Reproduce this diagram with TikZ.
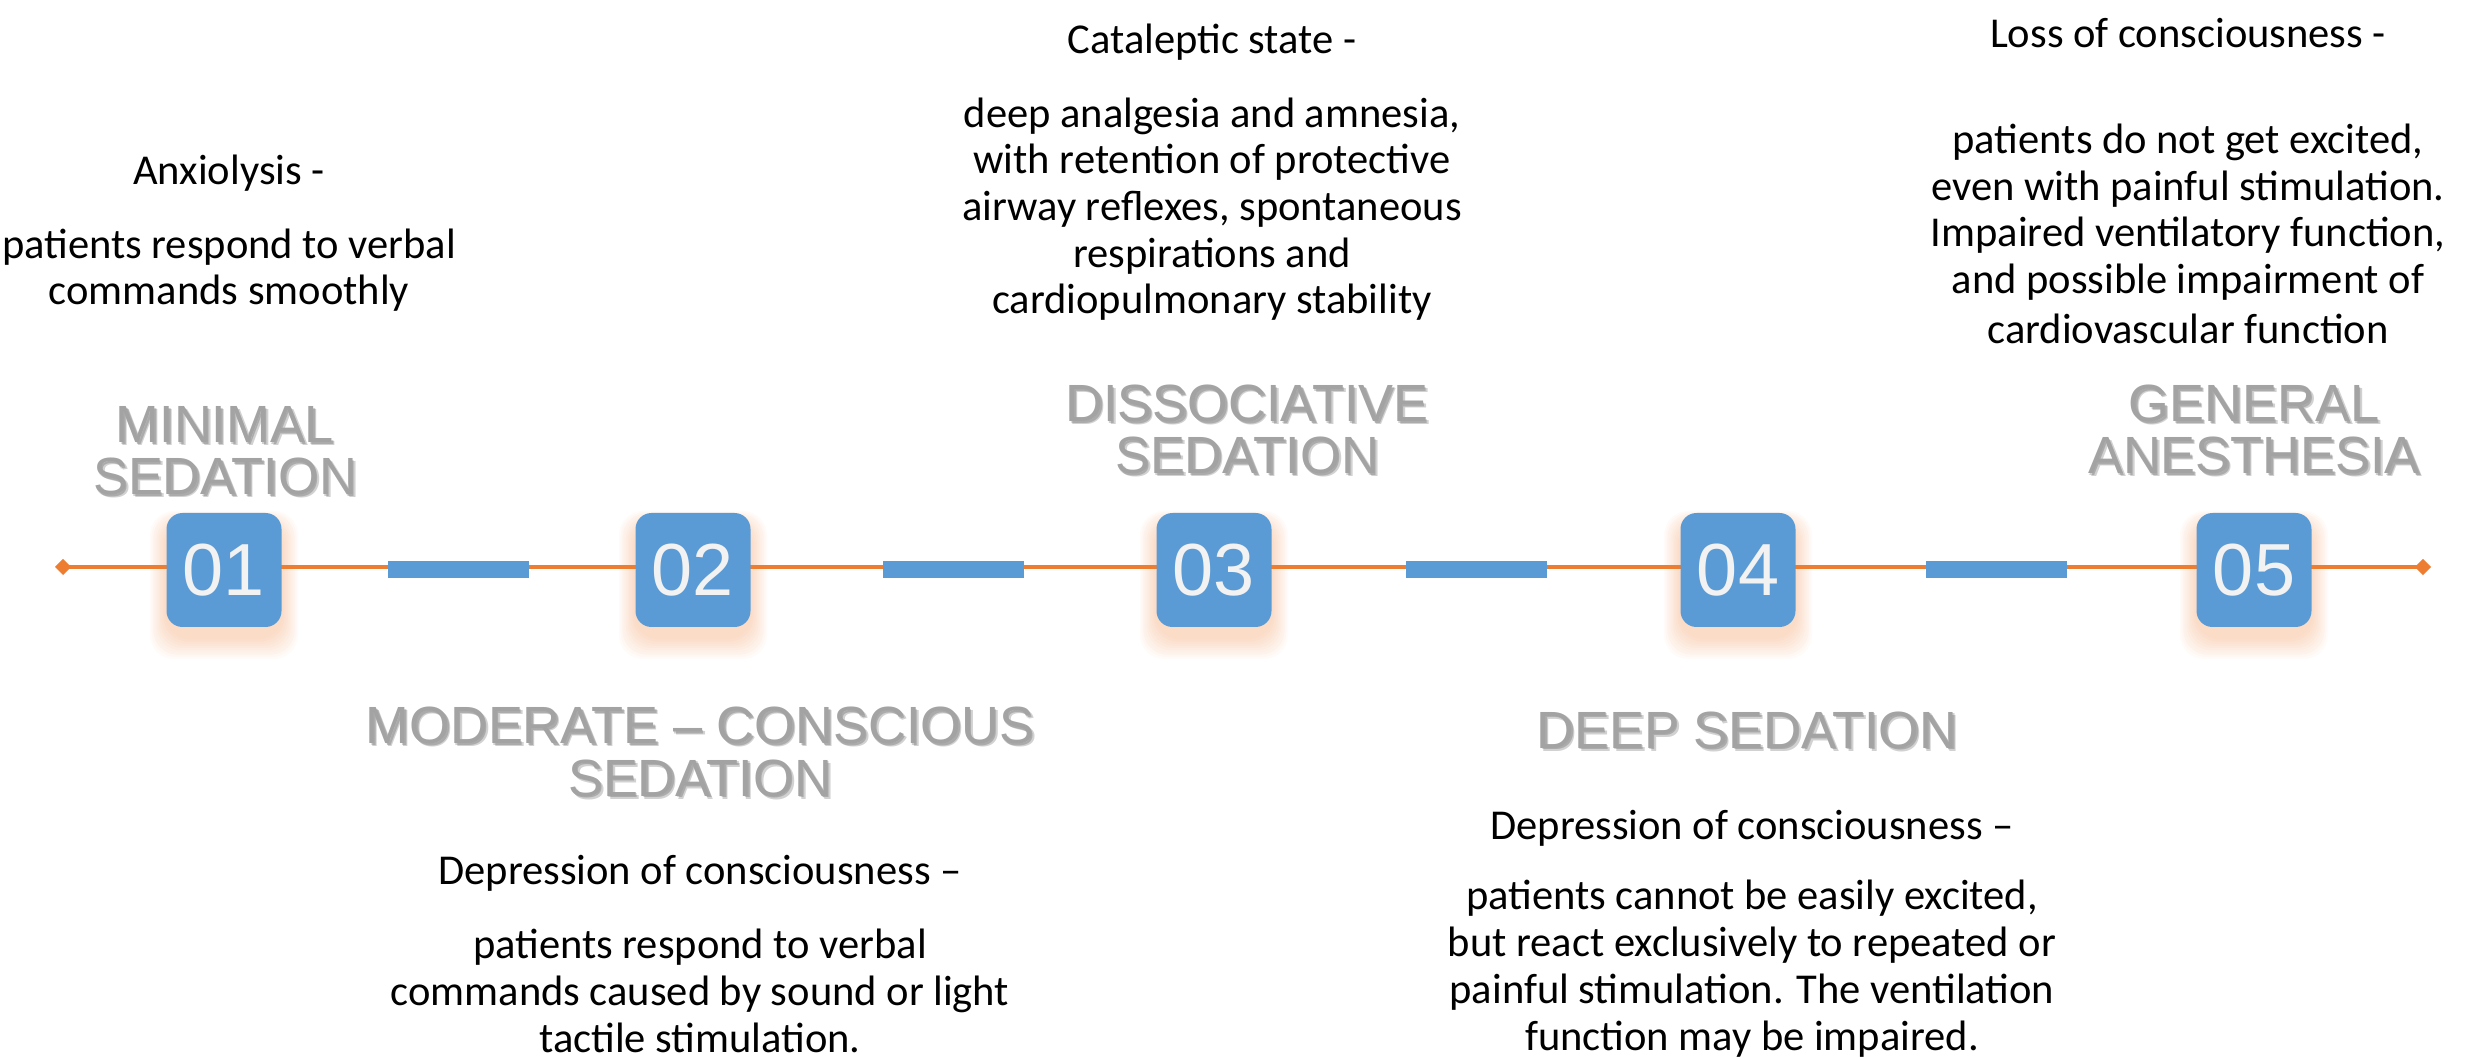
\documentclass[tikz,border=0pt]{standalone}
\usepackage{fontspec}
\setmainfont{Carlito}
\newfontfamily\titlefont{Liberation Sans}
\usetikzlibrary{positioning,calc,arrows.meta}

\definecolor{boxblue}{HTML}{5B9BD5}
\definecolor{lineorange}{HTML}{ED7D31}
\definecolor{titlegray}{HTML}{A3A3A3}
\definecolor{digitwhite}{HTML}{F2F2F2}

\tikzset{
  stagebox/.style={fill=boxblue, rounded corners=1.6mm, minimum width=11.5mm,
    minimum height=11.4mm, inner sep=0pt, text=digitwhite,
    font=\titlefont\fontsize{21}{21}\selectfont},
  dashbar/.style={fill=boxblue, minimum width=14.1mm, minimum height=1.7mm, inner sep=0pt},
  stagetitle/.style={anchor=base, align=center, inner sep=0pt, text=titlegray,
    font=\titlefont\fontsize{14.9}{14.8}\selectfont},
  titleshadow/.style={stagetitle, text=black, opacity=0.18},
  stagetext/.style={anchor=base, align=center, inner sep=0pt,
    font=\fontsize{12.1}{13.3}\selectfont},
}

% title with a soft drop shadow (placed at the baseline of its last line)
\newcommand{\titlewithshadow}[3]{%
  \node[titleshadow] at ($(#2)+(3,3)$) {#3};
  \node[titleshadow] at ($(#2)+(1.5,1.5)$) {#3};
  \node[stagetitle] (#1) at (#2) {#3};}

\begin{document}
\begin{tikzpicture}[x=0.1mm, y=-0.1mm]
  \useasboundingbox (0,0) rectangle (2468,1059);

  % Orange time line with diamond ends
  \coordinate (lineL) at (55,567);
  \coordinate (lineR) at (2431,567);
  \draw[lineorange, line width=1pt,
    {Diamond[length=4.6pt,width=4.6pt]}-{Diamond[length=4.6pt,width=4.6pt]}] (lineL) -- (lineR);

  % Glow under the boxes, then the numbered boxes
  \foreach \n/\x in {01/224, 02/693, 03/1214, 04/1738, 05/2254}{
    \foreach \r in {1,...,10}
      \fill[lineorange, opacity=0.03, rounded corners=2.4mm]
        ({\x-57-1.7*\r}, {523-1.2*\r}) rectangle ({\x+57+1.7*\r}, {637+2.2*\r});
    \node[stagebox] (box\n) at (\x,570) {\n};
  }

  % Blue bars half way between the boxes
  \foreach \a/\b in {01/02, 02/03, 03/04, 04/05}
    \node[dashbar] (bar\a) at ($(box\a)!0.5!(box\b)$) {};

  % Stage titles
  \titlewithshadow{title01}{225,495}{MINIMAL\\SEDATION}
  \titlewithshadow{title02}{700,796}{MODERATE – CONSCIOUS\\SEDATION}
  \titlewithshadow{title03}{1247,474}{DISSOCIATIVE\\SEDATION}
  \titlewithshadow{title04}{1747,748}{DEEP SEDATION}
  \titlewithshadow{title05}{2254,474}{GENERAL\\ANESTHESIA}

  % Descriptions (placed at the baseline of the last line)
  \node[stagetext] (note01) at (229,305) {Anxiolysis -\\[7.6pt]patients respond to verbal\\commands smoothly};
  \node[stagetext] (note03) at (1212,314) {Cataleptic state -\\[7.5pt]deep analgesia and amnesia,\\with retention of protective\\airway reflexes, spontaneous\\respirations and\\cardiopulmonary stability};
  \node[stagetext] (note05) at (2188,344) {Loss of consciousness -\\[17pt]patients do not get excited,\\even with painful stimulation.\\Impaired ventilatory function,\\and possible impairment of\\[1pt]cardiovascular function};
  \node[stagetext] (note02) at (700,1052) {Depression of consciousness –\\[7.7pt]patients respond to verbal\\commands caused by sound or light\\tactile stimulation.};
  \node[stagetext] (note04) at (1752,1050) {Depression of consciousness –\\[6.6pt]patients cannot be easily excited,\\but react exclusively to repeated or\\painful stimulation. The ventilation\\function may be impaired.};
\end{tikzpicture}
\end{document}
